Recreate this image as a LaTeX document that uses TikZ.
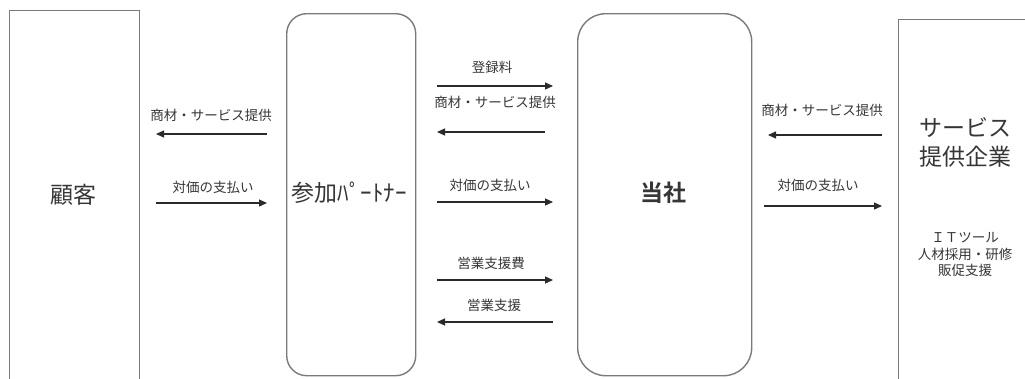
\documentclass[tikz,border=0pt]{standalone}
\usepackage{fontspec}
\setmainfont{Noto Sans CJK JP}[BoldFont={Noto Sans CJK JP Bold}]
\usetikzlibrary{arrows.meta}
\definecolor{boxgray}{HTML}{7A7A7A}
\definecolor{txtgray}{HTML}{363636}
\definecolor{arrgray}{HTML}{2A2A2A}
\tikzset{
  x=1pt, y=1pt,
  box/.style={draw=boxgray, line width=1.4pt, inner sep=0pt, anchor=north west},
  bigtext/.style={text=txtgray, font=\fontsize{23}{29}\selectfont, inner sep=0pt, align=center},
  lbl/.style={text=txtgray, font=\fontsize{13.5}{16.5}\selectfont, inner sep=0pt, align=center},
  flow/.style={draw=arrgray, line width=1.2pt, -{Triangle[length=8pt,width=7pt]}}
}
\begin{document}
\begin{tikzpicture}
\useasboundingbox (0,0) rectangle (1025,-378);
\clip (0,0) rectangle (1025,-378);
% boxes
\node[box, minimum width=130pt, minimum height=400pt] (cust) at (9,-10) {};
\node[box, rounded corners=20pt, minimum width=129pt, minimum height=362pt] (partner) at (286,-13) {};
\node[box, rounded corners=28pt, minimum width=174pt, minimum height=362pt] (company) at (577,-13) {};
\node[box, minimum width=200pt, minimum height=400pt] (service) at (898,-19) {};
% box texts
\node[bigtext] (custT) at (73,-195) {顧客};
\node[bigtext] (partT) at (349,-193) {参加ﾊﾟｰﾄﾅｰ};
\node[bigtext, font=\fontsize{23}{29}\selectfont\bfseries] (compT) at (663,-193) {当社};
\node[bigtext] (servT) at (965,-142.5) {サービス\\提供企業};
\node[lbl] (servS) at (965,-254.5) {ＩＴツール\\人材採用・研修\\販促支援};
% arrow end points
\coordinate (a1s) at (267,-134); \coordinate (a1e) at (156,-134);
\coordinate (a2s) at (156,-203); \coordinate (a2e) at (267,-203);
\coordinate (b1s) at (437,-86);  \coordinate (b1e) at (553,-86);
\coordinate (b2s) at (545,-132); \coordinate (b2e) at (437,-132);
\coordinate (b3s) at (437,-202); \coordinate (b3e) at (553,-202);
\coordinate (b4s) at (437,-280); \coordinate (b4e) at (553,-280);
\coordinate (b5s) at (553,-322); \coordinate (b5e) at (437,-322);
\coordinate (c1s) at (882,-135); \coordinate (c1e) at (768,-135);
\coordinate (c2s) at (764,-206); \coordinate (c2e) at (882,-206);
% arrows
\draw[flow] (a1s) -- (a1e);
\draw[flow] (a2s) -- (a2e);
\draw[flow] (b1s) -- (b1e);
\draw[flow] (b2s) -- (b2e);
\draw[flow] (b3s) -- (b3e);
\draw[flow] (b4s) -- (b4e);
\draw[flow] (b5s) -- (b5e);
\draw[flow] (c1s) -- (c1e);
\draw[flow] (c2s) -- (c2e);
% labels
\node[lbl] (la1) at (211,-115) {商材・サービス提供};
\node[lbl] (la2) at (213,-187) {対価の支払い};
\node[lbl] (lb1) at (492,-67) {登録料};
\node[lbl] (lb2) at (495,-102) {商材・サービス提供};
\node[lbl] (lb3) at (490,-185) {対価の支払い};
\node[lbl] (lb4) at (491,-263) {営業支援費};
\node[lbl] (lb5) at (494,-305) {営業支援};
\node[lbl] (lc1) at (822,-110) {商材・サービス提供};
\node[lbl] (lc2) at (818,-185) {対価の支払い};
\end{tikzpicture}
\end{document}
